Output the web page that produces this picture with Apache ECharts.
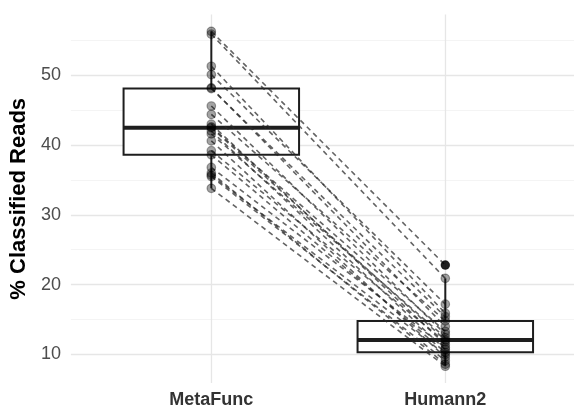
<!DOCTYPE html>
<html>
<head>
<meta charset="utf-8">
<script src="https://cdn.jsdelivr.net/npm/echarts@6/dist/echarts.min.js"></script>
<style>
  html, body { margin: 0; padding: 0; background: #fff; }
  #chart { width: 574px; height: 409px; }
</style>
</head>
<body>
<div id="chart"></div>
<script>
// Percentage of classified reads per sample, for each tool (paired by index)
const categories = ['MetaFunc', 'Humann2'];
const metaFunc = [56.3, 55.9, 51.3, 50.1, 48.2, 48.1, 45.6, 44.4, 43.0, 42.6, 42.5,
                  42.0, 41.6, 40.6, 39.2, 38.6, 36.8, 36.0, 35.7, 35.5, 33.8];
const humann2  = [22.8, 20.9, 15.9, 17.2, 14.0, 15.4, 12.9, 14.8, 11.4, 13.3, 12.05,
                  10.7, 12.4, 9.6, 11.8, 10.3, 11.0, 8.6, 10.0, 9.1, 8.3];
const yMajorTicks = [10, 20, 30, 40, 50];
const yMinorTicks = [15, 25, 35, 45, 55];
const catPositions = [1, 2];

const FONT = '"Liberation Sans", Arial, Helvetica, sans-serif';
const BOX_HALF = 0.375;

// Type-7 quantile (linear interpolation between order statistics)
function quantile(sorted, p) {
  const h = (sorted.length - 1) * p;
  const lo = Math.floor(h), hi = Math.ceil(h);
  return sorted[lo] + (h - lo) * (sorted[hi] - sorted[lo]);
}

function boxStats(values, x) {
  const s = values.slice().sort((a, b) => a - b);
  const q1 = quantile(s, 0.25), med = quantile(s, 0.5), q3 = quantile(s, 0.75);
  const iqr = q3 - q1;
  const inner = s.filter(v => v >= q1 - 1.5 * iqr && v <= q3 + 1.5 * iqr);
  const outliers = s.filter(v => v < q1 - 1.5 * iqr || v > q3 + 1.5 * iqr);
  return { row: [x, inner[0], q1, med, q3, inner[inner.length - 1]], outliers };
}

const groups = [metaFunc, humann2];
const stats = groups.map((g, i) => boxStats(g, catPositions[i]));
const outlierPoints = [];
stats.forEach((st, i) => st.outliers.forEach(v => outlierPoints.push([catPositions[i], v])));

const series = [];

// Background grid drawn as mark lines, kept beneath every mark
series.push({
  type: 'line', data: [], silent: true, z: 0,
  markLine: {
    silent: true, symbol: 'none', animation: false, z: 0,
    label: { show: false },
    data: [
      ...yMinorTicks.map(v => ({ yAxis: v, lineStyle: { color: '#efefef', width: 0.7, type: 'solid' } })),
      ...yMajorTicks.map(v => ({ yAxis: v, lineStyle: { color: '#e6e6e6', width: 1.3, type: 'solid' } })),
      ...catPositions.map(v => ({ xAxis: v, lineStyle: { color: '#e6e6e6', width: 1.3, type: 'solid' } }))
    ]
  }
});

// Boxes with whiskers and thick median
series.push({
  type: 'custom', z: 2,
  data: stats.map(s => s.row),
  encode: { x: 0, y: [1, 2, 3, 4, 5] },
  renderItem(params, api) {
    const x = api.value(0), lo = api.value(1), q1 = api.value(2),
          med = api.value(3), q3 = api.value(4), hi = api.value(5);
    const tl = api.coord([x - BOX_HALF, q3]);
    const br = api.coord([x + BOX_HALF, q1]);
    const top = api.coord([x, hi]), bot = api.coord([x, lo]);
    const cTop = api.coord([x, q3]), cBot = api.coord([x, q1]);
    const mL = api.coord([x - BOX_HALF, med]), mR = api.coord([x + BOX_HALF, med]);
    const stroke = '#1e1e1e';
    return {
      type: 'group',
      children: [
        { type: 'line', shape: { x1: top[0], y1: top[1], x2: cTop[0], y2: cTop[1] }, style: { stroke, lineWidth: 2 } },
        { type: 'line', shape: { x1: cBot[0], y1: cBot[1], x2: bot[0], y2: bot[1] }, style: { stroke, lineWidth: 2 } },
        { type: 'rect', shape: { x: tl[0], y: tl[1], width: br[0] - tl[0], height: br[1] - tl[1] },
          style: { fill: '#fff', stroke, lineWidth: 2 } },
        { type: 'line', shape: { x1: mL[0], y1: mL[1], x2: mR[0], y2: mR[1] }, style: { stroke, lineWidth: 4 } }
      ]
    };
  }
});

// Dashed lines pairing each sample across tools
metaFunc.forEach((v, i) => {
  series.push({
    type: 'line', z: 3, silent: true, symbol: 'none',
    data: [[catPositions[0], v], [catPositions[1], humann2[i]]],
    lineStyle: { color: 'rgba(40,40,40,0.72)', width: 1.6, type: [5, 4] }
  });
});

// Outliers from the box statistics
series.push({
  type: 'scatter', z: 4, symbolSize: 9,
  data: outlierPoints,
  itemStyle: { color: '#000' }
});

// Individual sample points (semi-transparent, with a ring)
groups.forEach((g, i) => {
  series.push({
    type: 'scatter', z: 5, symbolSize: 8.5,
    data: g.map(v => [catPositions[i], v]),
    itemStyle: { color: 'rgba(0,0,0,0.45)', borderColor: 'rgba(0,0,0,0.45)', borderWidth: 1.2 }
  });
});

const chart = echarts.init(document.getElementById('chart'), null, { renderer: 'canvas' });
chart.setOption({
  animation: false,
  backgroundColor: '#fff',
  textStyle: { fontFamily: FONT },
  grid: { left: 70.6, right: 0, top: 14.6, bottom: 23.7, containLabel: false },
  xAxis: {
    type: 'value', min: 0.4, max: 2.55,
    axisLine: { show: false }, axisTick: { show: false }, splitLine: { show: false },
    axisLabel: {
      customValues: catPositions,
      formatter: v => categories[Math.round(v) - 1] || '',
      color: '#333', fontWeight: 'bold', fontSize: 18, margin: 8, fontFamily: FONT
    }
  },
  yAxis: {
    type: 'value', min: 5.9, max: 58.7,
    name: '% Classified Reads', nameLocation: 'middle', nameGap: 38, nameRotate: 90,
    nameTextStyle: { fontSize: 22, fontWeight: 'bold', color: '#000', fontFamily: FONT },
    axisLine: { show: false }, axisTick: { show: false }, splitLine: { show: false },
    axisLabel: {
      customValues: yMajorTicks,
      color: '#4d4d4d', fontSize: 18, margin: 10, fontFamily: FONT
    }
  },
  series
});
</script>
</body>
</html>
